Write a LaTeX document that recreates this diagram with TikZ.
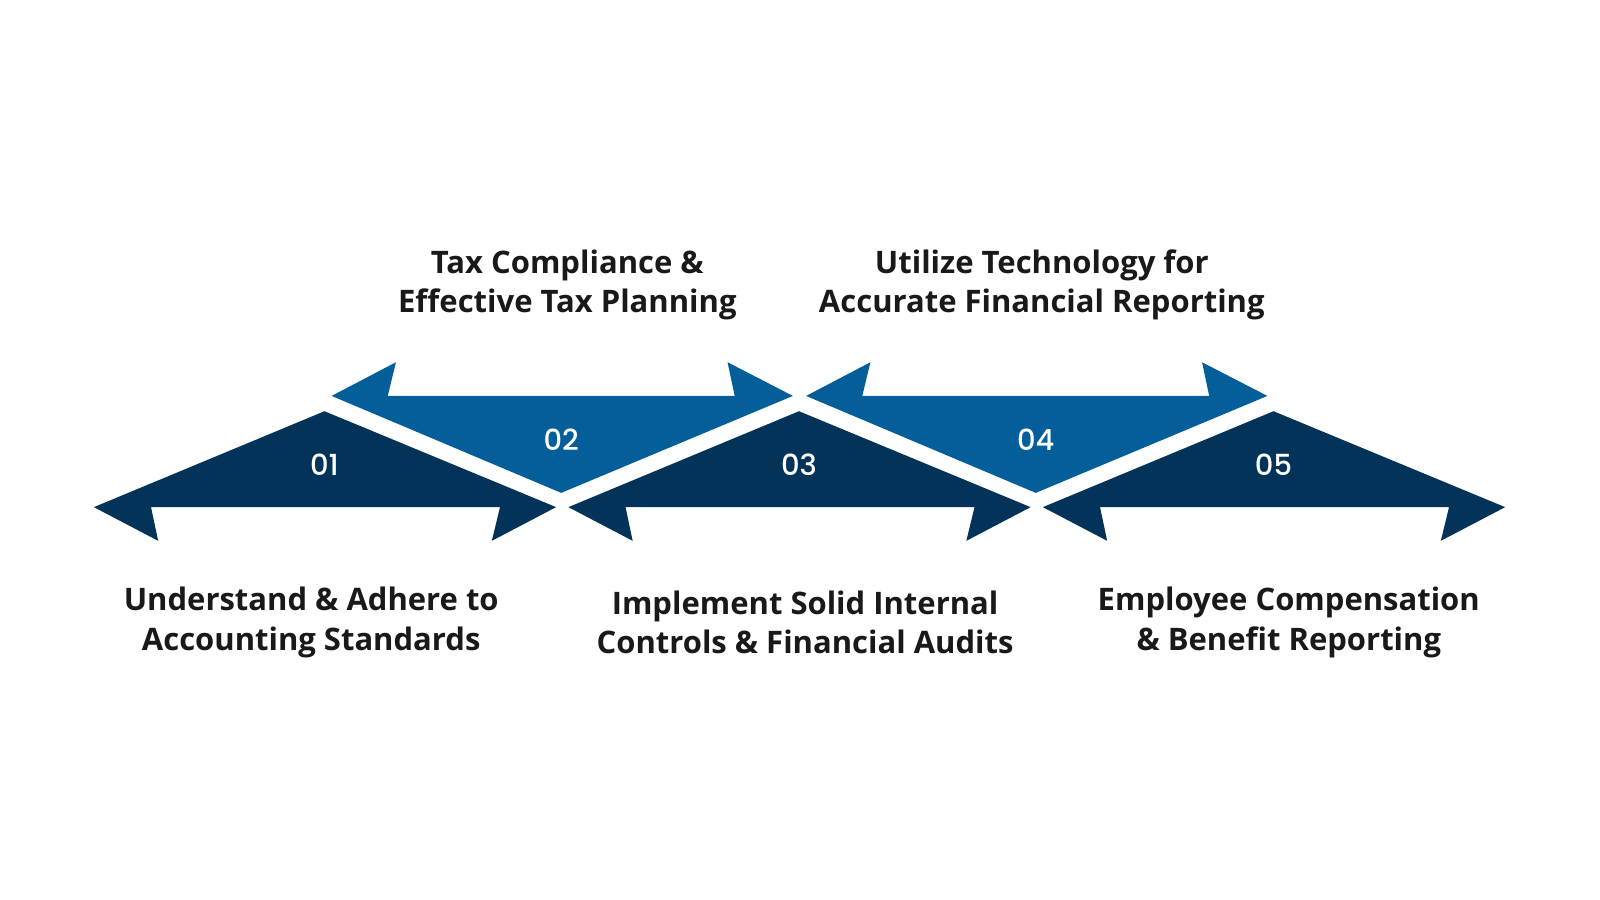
\documentclass[tikz,border=0pt]{standalone}
\usepackage{fontspec}
\setmainfont{Open Sans}
\newfontfamily\numfont{Poppins}[UprightFont=*-Medium]
\definecolor{darkb}{HTML}{04335A}
\definecolor{midb}{HTML}{035E99}
\begin{document}
\begin{tikzpicture}[x=1.0204pt,y=-1.0204pt,
 lbl/.style={font=\fontsize{31}{39.5}\selectfont\bfseries, align=center, text=black!90},
 num/.style={font=\numfont\fontsize{29}{30}\selectfont, text=white}]
\useasboundingbox (0,0) rectangle (1568,882);
\fill[white] (0,0) rectangle (1568,882);
\foreach \i/\n in {0/01,1/03,2/05}{
 \begin{scope}[xshift=\i*474.5]
 \fill[darkb] (92,497) -- (318,403) -- (545,497) -- (482,530) -- (490,497) -- (148,497) -- (155,530) -- cycle;
 \node[num] (n\n) at (318,455) {\n};
 \end{scope}}
\foreach \i/\n in {0/02,1/04}{
 \begin{scope}[xshift=\i*474.5]
 \fill[midb] (325,388) -- (550,483) -- (777,388) -- (713,355) -- (720,388) -- (380,388) -- (388,355) -- cycle;
 \node[num] (n\n) at (550,431) {\n};
 \end{scope}}
\node[lbl] (t2) at (556,279) {Tax Compliance \&\\Effective Tax Planning};
\node[lbl] (t4) at (1021,279) {Utilize Technology for\\Accurate Financial Reporting};
\node[lbl] (t1) at (305,610) {Understand \& Adhere to\\Accounting Standards};
\node[lbl] (t3) at (789,610) {Implement Solid Internal\\Controls \& Financial Audits};
\node[lbl] (t5) at (1263,610) {Employee Compensation\\\& Benefit Reporting};
\end{tikzpicture}
\end{document}
